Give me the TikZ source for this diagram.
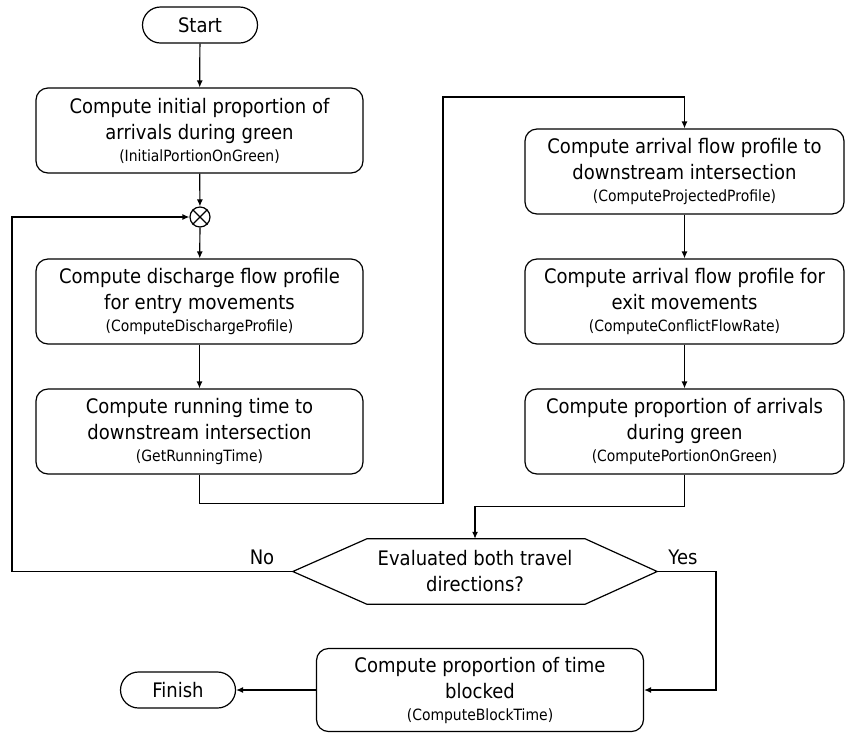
\documentclass[tikz,border=0pt]{standalone}
\usepackage{fontspec}
\setmainfont[FakeStretch=0.9]{DejaVu Sans}
\usetikzlibrary{arrows.meta}

\newcommand{\fname}[1]{\\[-4pt]{\fontsize{15.5}{18}\selectfont(#1)}}

\begin{document}
\begin{tikzpicture}[x=1pt,y=-1pt,
    box/.style={draw,rounded corners=12pt,line width=1.2pt,minimum width=327pt,minimum height=85pt,align=center,font=\fontsize{20}{26}\selectfont},
    term/.style={draw,rounded corners=18pt,line width=1.2pt,minimum width=115pt,minimum height=36pt,font=\fontsize{20}{26}\selectfont},
    link/.style={-{Latex[length=7pt,width=6pt]},line width=1.2pt}]

        \useasboundingbox (0,0) rectangle (845,732);

        \node[term] (n1) at (200,25) {Start};
        \node[box] (n2) at (199.5,130.5) {Compute initial proportion of\\arrivals during green\fname{InitialPortionOnGreen}};
        \node[circle,draw,line width=1.2pt,minimum size=20pt,inner sep=0pt] (n3) at (200,217) {};
        \draw[line width=1.2pt] (n3.north west) -- (n3.south east) (n3.north east) -- (n3.south west);
        \node[box] (n4) at (199.5,301.5) {Compute discharge flow profile\\for entry movements\fname{ComputeDischargeProfile}};
        \node[box] (n5) at (199.5,431.5) {Compute running time to\\downstream intersection\fname{GetRunningTime}};

        \node[box,minimum width=319pt] (n6) at (684.5,171.5) {Compute arrival flow profile to\\downstream intersection\fname{ComputeProjectedProfile}};
        \node[box,minimum width=319pt] (n7) at (684.5,301.5) {Compute arrival flow profile for\\exit movements\fname{ComputeConflictFlowRate}};
        \node[box,minimum width=319pt] (n8) at (684.5,431.5) {Compute proportion of arrivals\\during green\fname{ComputePortionOnGreen}};

        \node[minimum width=364pt,minimum height=65pt,align=center,font=\fontsize{20}{26}\selectfont] (n9) at (475,571.5) {Evaluated both travel\\directions?};
        \draw[line width=1.2pt] (n9.west) -- ([xshift=74pt]n9.north west) -- ([xshift=-72pt]n9.north east) -- (n9.east)
            -- ([xshift=-72pt]n9.south east) -- ([xshift=74pt]n9.south west) -- cycle;

        \node[box,minimum height=83pt] (n10) at (480,690) {Compute proportion of time\\blocked\fname{ComputeBlockTime}};
        \node[term] (n11) at (178,690) {Finish};

        \node[font=\fontsize{20}{26}\selectfont] (n12) at (262,557) {No};
        \node[font=\fontsize{20}{26}\selectfont] (n13) at (683,557) {Yes};

        \coordinate (c1) at (443,97);
        \coordinate (c2) at (12,217);
        \coordinate (c3) at (716,571.5);

        \draw[link] (n1) -- (n2);
        \draw[link] (n2) -- (n3);
        \draw[link] (n3) -- (n4);
        \draw[link] (n4) -- (n5);
        \draw[link] (n5.south) -- ++(0,29) -| (c1) -| (n6.north);
        \draw[link] (n6) -- (n7);
        \draw[link] (n7) -- (n8);
        \draw[link] (n8.south) -- ++(0,32) -| (n9.north);
        \draw[link] (n9.west) -| (c2) -- (n3.west);
        \draw[link] (n9.east) -- (c3) |- (n10.east);
        \draw[link] (n10) -- (n11);

    \end{tikzpicture}
\end{document}
